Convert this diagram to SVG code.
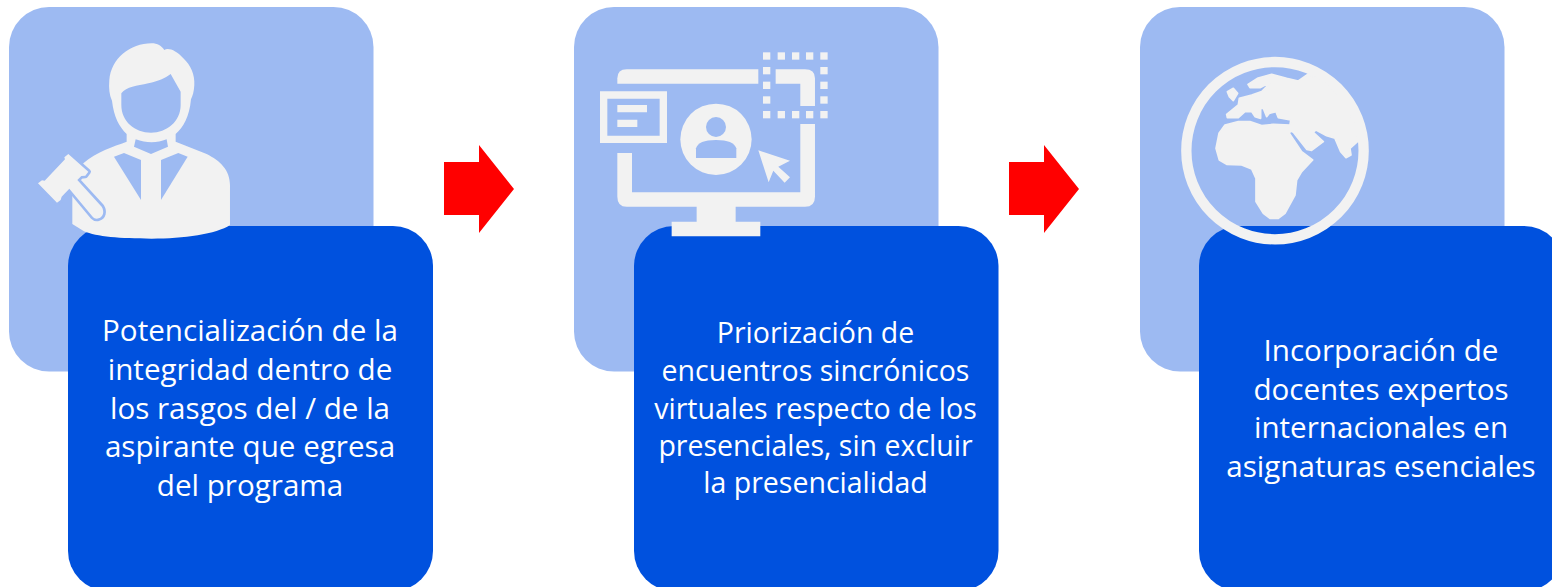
<svg xmlns="http://www.w3.org/2000/svg" width="1552" height="587" viewBox="0 0 1552 587">
<style>
.lt{fill:#9dbaf2}.dk{fill:#0051de}.ic{fill:#f2f2f2}.hole{fill:#9dbaf2}
.land{fill:#f2f2f2;stroke:#f2f2f2;stroke-width:5;stroke-linejoin:round}
.tx{font-family:"Open Sans","Noto Sans",sans-serif;font-size:29.6px;fill:#fff;text-anchor:middle}
.tx2{font-size:28.5px}
.ar{fill:#ff0000}
</style>
<defs>
<path id="arrow" d="M0 17H35V0L70 44L35 88V70H0Z"/>
</defs>
<g id="card-1">
<rect class="lt" x="9" y="7" width="364.5" height="364.5" rx="40"/>
<rect class="dk" x="68" y="226" width="365" height="365" rx="40"/>
<g id="icon-person" transform="translate(20 30) scale(.3333)">
<path class="ic" d="M320 335V312C298 290 282 262 276 212C268 195 266 175 268 150C274 85 330 40 395 40C412 40 425 48 433 60C445 52 470 62 490 85C512 105 525 135 523 165C522 185 518 198 513 208C508 262 490 292 467 312V335L560 372C600 392 630 420 630 465V585C590 612 490 626 395 626C300 626 230 620 192 604L157 582V470L190 400C230 365 280 350 320 335Z"/>
<path class="hole" d="M304 190C320 170 350 168 385 160C415 153 435 145 452 132L482 185V225C482 275 440 308 393 308C345 308 304 275 304 225Z"/>
<path class="hole" d="M347 328C380 340 410 340 440 328L444 350L393 372L342 350Z"/>
<path class="hole" d="M282 380L312 369L363 390V510Z"/>
<path class="hole" d="M503 380L475 369L423 390V510Z"/>
<path class="ic" stroke="#9dbaf2" stroke-width="16" stroke-linejoin="round" paint-order="stroke" d="M145 372L205 425L196 437L184 438L172 450L245 530C254 545 250 560 236 565C228 568 222 564 218 560L148 476L135 490L125 500L122 510L111 518L54 460L66 451L74 452L135 388L133 382Z"/>
</g>
<text class="tx" x="250" y="341">Potencialización de la</text>
<text class="tx" x="250" y="380">integridad dentro de</text>
<text class="tx" x="250" y="419">los rasgos del / de la</text>
<text class="tx" x="250" y="457">aspirante que egresa</text>
<text class="tx" x="250" y="496">del programa</text>
</g>
<g id="card-2">
<rect class="lt" x="574" y="7" width="364.5" height="364.5" rx="40"/>
<rect class="dk" x="634" y="226" width="364.5" height="365" rx="40"/>
<g id="icon-monitor" transform="translate(590 40) scale(.3333)">
<path class="ic" d="M82 131V115Q82 88 110 88H505V131Z"/>
<path class="ic" d="M557 88H645Q675 88 675 115V198H631V131H557Z"/>
<path class="ic" d="M82 339H126V457H631V252H675V470Q675 500 645 500H437V545H511V589H245V545H320V500H110Q82 500 82 470Z"/>
<path class="ic" fill-rule="evenodd" d="M30 154H231V309H30ZM52 176V287H209V176Z"/>
<path class="ic" d="M82 195H171V217H82ZM82 239H142V261H82Z"/>
<circle class="ic" cx="378" cy="298" r="107"/>
<circle class="hole" cx="378" cy="261" r="30"/>
<path class="hole" d="M318 354V325Q325 300 378 300Q431 300 439 325V354Z"/>
<path class="ic" d="M505 331L600 362L565 380L600 412L584 428L550 392L536 427Z"/>
<g class="ic">
<rect x="519" y="37" width="22" height="22"/><rect x="563" y="37" width="22" height="22"/><rect x="606" y="37" width="22" height="22"/><rect x="648" y="37" width="22" height="22"/><rect x="691" y="37" width="22" height="22"/>
<rect x="519" y="81" width="22" height="22"/><rect x="691" y="81" width="22" height="22"/>
<rect x="519" y="125" width="22" height="22"/><rect x="691" y="125" width="22" height="22"/>
<rect x="519" y="169" width="22" height="22"/><rect x="691" y="169" width="22" height="22"/>
<rect x="519" y="213" width="22" height="22"/><rect x="563" y="213" width="22" height="22"/><rect x="606" y="213" width="22" height="22"/><rect x="648" y="213" width="22" height="22"/><rect x="691" y="213" width="22" height="22"/>
</g>
</g>
<text class="tx tx2" x="815.5" y="343">Priorización de</text>
<text class="tx tx2" x="815.5" y="381">encuentros sincrónicos</text>
<text class="tx tx2" x="815.5" y="419">virtuales respecto de los</text>
<text class="tx tx2" x="815.5" y="456">presenciales, sin excluir</text>
<text class="tx tx2" x="815.5" y="493">la presencialidad</text>
</g>
<g id="card-3">
<rect class="lt" x="1140" y="7" width="364.5" height="364.5" rx="40"/>
<rect class="dk" x="1199" y="226" width="365" height="365" rx="40"/>
<g id="icon-globe" transform="translate(1170 45) scale(.3333)">
<circle cx="315" cy="317" r="266" fill="none" stroke="#f2f2f2" stroke-width="31"/>
<path class="land" d="M415 87A250 250 0 0 1 565 288L540 310L543 330L528 338L512 320L495 280L470 272L438 255L430 262L460 290L425 316L410 313L370 262L362 258L358 265L395 320L428 345L395 380L380 405L375 450L345 505L325 520H300L280 505L258 470L258 400L245 372L215 360L170 358L148 345L138 310L147 265L165 240L205 230L240 230L275 242L310 238L360 240L362 225L325 218L318 200L298 205L290 215L280 190L272 190L272 220L255 215L245 200L225 200L205 218L172 218L170 208L205 180L208 160L245 150L275 140L305 110L270 128L240 128L234 118L262 100L305 88L350 100L385 108Z"/>
<path class="land" d="M172 140L190 130L203 145L190 167L178 155Z"/>
</g>
<text class="tx" x="1381" y="361">Incorporación de</text>
<text class="tx" x="1381" y="400">docentes expertos</text>
<text class="tx" x="1381" y="438">internacionales en</text>
<text class="tx" x="1381" y="477">asignaturas esenciales</text>
</g>
<g id="connectors">
<use class="ar" href="#arrow" transform="translate(444 145)"/>
<use class="ar" href="#arrow" transform="translate(1009 145)"/>
</g>
</svg>
